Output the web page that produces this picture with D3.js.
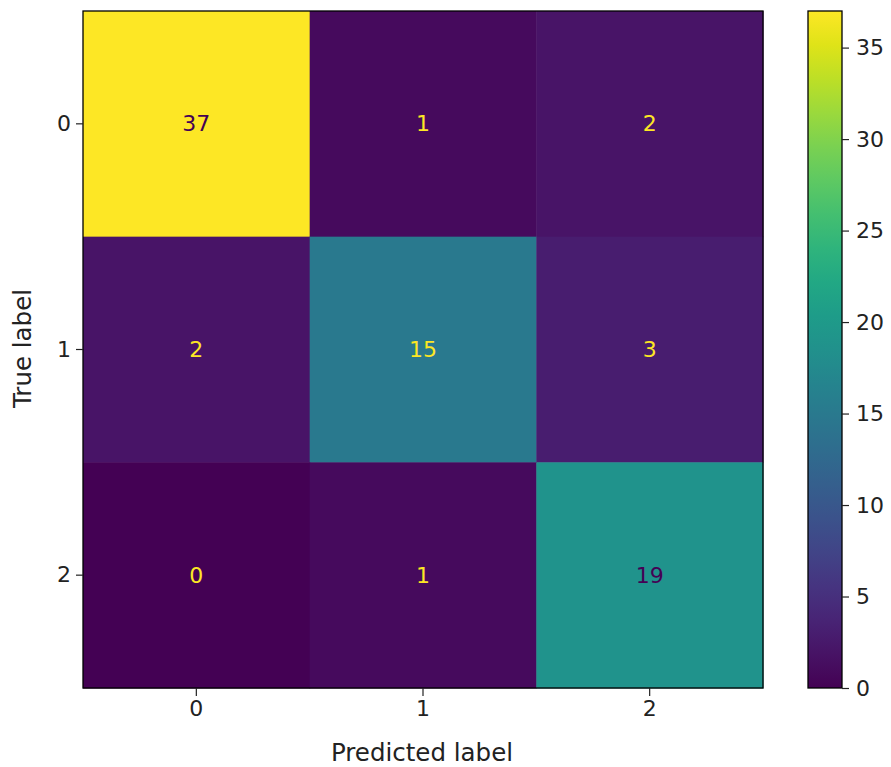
<!DOCTYPE html>
<html><head><meta charset="utf-8">
<script src="https://cdn.jsdelivr.net/npm/d3@7"></script>
<style>body{margin:0;background:#fff;} text{font-family:"DejaVu Sans",sans-serif;}</style>
</head><body>
<svg id="c" width="891" height="767"></svg>
<script>
const labels = ["0","1","2"];
const matrix = [
  [37, 1, 2],
  [2, 15, 3],
  [0, 1, 19]
];
const cbTicks = [0,5,10,15,20,25,30,35];
const vmin = 0, vmax = 37;

const svg = d3.select("#c");
const L = 83, T = 11, W = 680, H = 677;
const x = d3.scaleBand().domain(labels).range([L, L+W]);
const y = d3.scaleBand().domain(labels).range([T, T+H]);
const color = d3.scaleSequential(d3.interpolateViridis).domain([vmin, vmax]);
const fs = 22, lfs = 24.5;

const cells = [];
matrix.forEach((row,i)=>row.forEach((v,j)=>cells.push({r:labels[i],c:labels[j],v})));
svg.selectAll("rect.cell").data(cells).enter().append("rect")
  .attr("x",d=>x(d.c)).attr("y",d=>y(d.r))
  .attr("width",x.bandwidth()+0.5).attr("height",y.bandwidth()+0.5)
  .attr("fill",d=>color(d.v));
const thr = (vmax+vmin)/2;
svg.selectAll("text.val").data(cells).enter().append("text")
  .attr("x",d=>x(d.c)+x.bandwidth()/2).attr("y",d=>y(d.r)+y.bandwidth()/2)
  .attr("text-anchor","middle").attr("dominant-baseline","central")
  .attr("font-size",fs)
  .attr("fill",d=>d.v>thr?color(vmin):color(vmax))
  .text(d=>d.v);
svg.append("rect").attr("x",L).attr("y",T).attr("width",W).attr("height",H)
  .attr("fill","none").attr("stroke","#000").attr("stroke-width",1.3);

const xa = svg.append("g").attr("transform",`translate(0,${T+H})`)
  .call(d3.axisBottom(x).tickSize(8).tickPadding(4));
const ya = svg.append("g").attr("transform",`translate(${L},0)`)
  .call(d3.axisLeft(y).tickSize(7).tickPadding(5));
[xa,ya].forEach(a=>{a.select(".domain").remove();
  a.selectAll("text").attr("font-size",fs).attr("fill","#222").style("font-family","DejaVu Sans");
  a.selectAll("line").attr("stroke","#222").attr("stroke-width",1.2);});

svg.append("text").attr("x",L+W/2 - 1).attr("y",761).attr("text-anchor","middle")
  .attr("font-size",lfs).attr("fill","#222").text("Predicted label");
svg.append("text").attr("transform",`translate(31,${T+H/2 - 1}) rotate(-90)`)
  .attr("text-anchor","middle").attr("font-size",lfs).attr("fill","#222").text("True label");

// colorbar
const CX = 808, CW = 34;
const cy = d3.scaleLinear().domain([vmin,vmax]).range([T+H, T]);
const defs = svg.append("defs");
const grad = defs.append("linearGradient").attr("id","g").attr("x1",0).attr("y1",1).attr("x2",0).attr("y2",0);
d3.range(0,1.0001,0.05).forEach(t=>grad.append("stop").attr("offset",t).attr("stop-color",d3.interpolateViridis(t)));
svg.append("rect").attr("x",CX).attr("y",T).attr("width",CW).attr("height",H).attr("fill","url(#g)")
  .attr("stroke","#000").attr("stroke-width",1.3);
const ca = svg.append("g").attr("transform",`translate(${CX+CW},0)`)
  .call(d3.axisRight(cy).tickValues(cbTicks).tickSize(7).tickPadding(7));
ca.select(".domain").remove();
ca.selectAll("text").attr("font-size",fs).attr("fill","#222").style("font-family","DejaVu Sans");
ca.selectAll("line").attr("stroke","#222").attr("stroke-width",1.2);
</script>
</body></html>
